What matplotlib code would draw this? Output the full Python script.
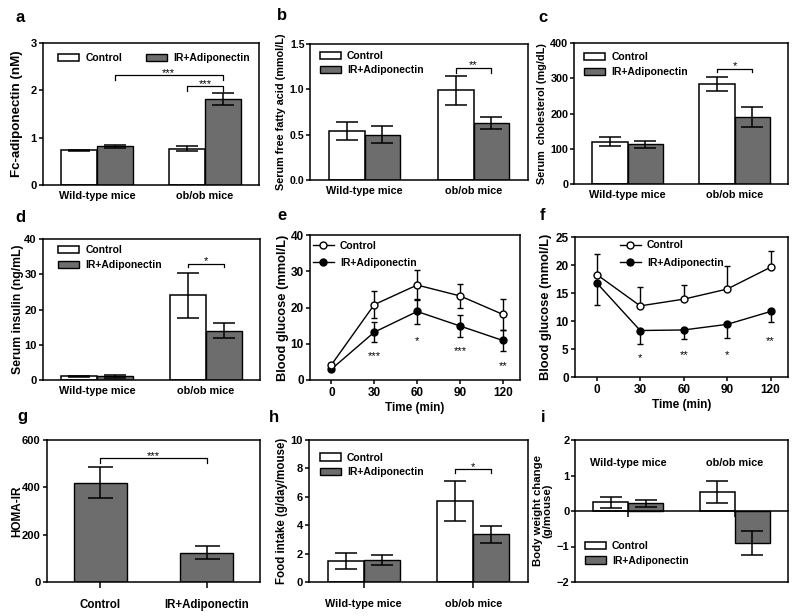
import numpy as np
import matplotlib
matplotlib.use('Agg')
import matplotlib.pyplot as plt
from matplotlib.patches import Patch
from matplotlib.lines import Line2D

plt.rcParams['font.family'] = ['Liberation Sans', 'DejaVu Sans']
plt.rcParams['font.weight'] = 'bold'
plt.rcParams['axes.labelweight'] = 'bold'
plt.rcParams['axes.linewidth'] = 1.1
plt.rcParams['xtick.major.width'] = 1.1
plt.rcParams['ytick.major.width'] = 1.1
plt.rcParams['ytick.major.size'] = 3
plt.rcParams['xtick.major.size'] = 3

# ---- datos ----
grupos = ['Wild-type mice', 'ob/ob mice']
series = ['Control', 'IR+Adiponectin']

# a: Fc-adiponectin (nM)
adipo_ctrl = [0.73, 0.77]
adipo_ctrl_err = [0.02, 0.06]
adipo_ir = [0.82, 1.81]
adipo_ir_err = [0.03, 0.13]

# b: serum free fatty acid (mmol/L)
ffa_ctrl = [0.54, 0.99]
ffa_ctrl_err = [0.10, 0.16]
ffa_ir = [0.50, 0.63]
ffa_ir_err = [0.095, 0.065]

# c: serum cholesterol (mg/dL)
col_ctrl = [120, 284]
col_ctrl_err = [13, 20]
col_ir = [113, 190]
col_ir_err = [10, 28]

# d: serum insulin (ng/mL)
ins_ctrl = [1.0, 24.0]
ins_ctrl_err = [0.2, 6.4]
ins_ir = [1.0, 14.0]
ins_ir_err = [0.3, 2.2]

# e: GTT
tiempos = [0, 30, 60, 90, 120]
gtt_ctrl = [4.2, 20.8, 26.2, 23.2, 18.1]
gtt_ctrl_err = [0.4, 3.7, 4.2, 3.4, 4.2]
gtt_ir = [3.0, 13.2, 18.9, 14.9, 10.9]
gtt_ir_err = [0.4, 2.8, 3.5, 2.9, 2.9]
gtt_sig = ['', '***', '*', '***', '**']
gtt_sig_y = [0, 7.4, 11.8, 8.8, 4.7]

# f: ITT
itt_ctrl = [18.3, 12.7, 13.9, 15.7, 19.6]
itt_ctrl_err = [3.6, 3.3, 2.6, 4.1, 2.9]
itt_ir = [16.8, 8.3, 8.4, 9.4, 11.7]
itt_ir_err = [3.9, 2.4, 1.6, 2.4, 1.9]
itt_sig = ['', '*', '**', '*', '**']
itt_sig_y = [0, 4.0, 4.6, 4.6, 7.1]

# g: HOMA-IR
homa_grupos = ['Control', 'IR+Adiponectin']
homa = [420, 124]
homa_err = [65, 27]

# h: food intake (g/day/mouse)
food_ctrl = [1.48, 5.72]
food_ctrl_err = [0.57, 1.4]
food_ir = [1.53, 3.35]
food_ir_err = [0.36, 0.59]

# i: body weight change (g/mouse)
peso_ctrl = [0.24, 0.53]
peso_ctrl_err = [0.16, 0.31]
peso_ir = [0.22, -0.90]
peso_ir_err = [0.10, 0.34]

GRIS = '#6d6d6d'
W, H = 800, 616
fig = plt.figure(figsize=(W / 100, H / 100), dpi=100)


def caja(l, t, r, b):
    return [l / W, 1 - b / H, (r - l) / W, (b - t) / H]


def letra(x, y, s):
    fig.text(x / W, 1 - y / H, s, fontsize=12, ha='center', va='center')


def estilo(ax, ylabel, xlab_frac, yticks, ylim, fs=8, tfs=8):
    ax.set_ylim(*ylim)
    ax.set_yticks(yticks)
    ax.set_ylabel(ylabel, fontsize=fs, va='center')
    ax.yaxis.set_label_coords(xlab_frac, 0.5)
    ax.tick_params(axis='y', labelsize=tfs, pad=1.5)
    ax.tick_params(axis='x', labelsize=7.8)


def barras(ax, ctrl, ctrl_err, ir, ir_err, w=0.33, cap=8):
    x = np.arange(len(grupos))
    ax.bar(x - w / 2, ctrl, w, color='white', edgecolor='k', lw=1.1, zorder=2)
    ax.bar(x + w / 2, ir, w, color=GRIS, edgecolor='k', lw=1.0, zorder=2)
    ax.errorbar(x - w / 2, ctrl, yerr=ctrl_err, fmt='none', ecolor='k',
                elinewidth=1.1, capsize=cap, capthick=1.1, zorder=3)
    ax.errorbar(x + w / 2, ir, yerr=ir_err, fmt='none', ecolor='k',
                elinewidth=1.1, capsize=cap, capthick=1.1, zorder=3)
    ax.set_xlim(-0.5, 1.5)
    ax.set_xticks(x)
    ax.set_xticklabels(grupos)
    return x


def estrellas(ax, x, y, txt):
    # y = centro visual de los asteriscos
    ax.annotate(txt, (x, y), xytext=(0, -4.6), textcoords='offset points',
                ha='center', va='baseline', fontsize=8, fontweight='normal')


def llave(ax, x1, x2, y, y0, txt, ty):
    ax.plot([x1, x1, x2, x2], [y0, y, y, y0], color='k', lw=0.9)
    estrellas(ax, (x1 + x2) / 2, ty, txt)


def leyenda_barras(ax, anchor, ncol=1, colsp=2.0):
    h = [Patch(facecolor='white', edgecolor='k', lw=1.1),
         Patch(facecolor=GRIS, edgecolor='k', lw=1.0)]
    ax.legend(h, series, loc='upper left', bbox_to_anchor=anchor, frameon=False,
              fontsize=7.5, ncol=ncol, borderpad=0, borderaxespad=0,
              handlelength=2.0, handleheight=0.7, handletextpad=0.6,
              labelspacing=0.45, columnspacing=colsp)


w = 0.33

# ---- a ----
ax = fig.add_axes(caja(43, 43, 259, 185))
barras(ax, adipo_ctrl, adipo_ctrl_err, adipo_ir, adipo_ir_err)
estilo(ax, 'Fc-adiponectin (nM)', -0.12, [0, 1, 2, 3], (0, 3), fs=9.6)
ax.tick_params(axis='x', length=0, pad=4)
llave(ax, w / 2, 1 + w / 2, 2.33, 2.22, '***', 2.43)
llave(ax, 1 - w / 2, 1 + w / 2, 2.09, 1.99, '***', 2.2)
leyenda_barras(ax, (0.07, 0.93), ncol=2, colsp=2.3)
letra(20, 17, 'a')

# ---- b ----
ax = fig.add_axes(caja(310, 44, 528, 180))
barras(ax, ffa_ctrl, ffa_ctrl_err, ffa_ir, ffa_ir_err)
estilo(ax, 'Serum free fatty acid (mmol/L)', -0.135, [0, 0.5, 1.0, 1.5], (0, 1.5),
       fs=7.8, tfs=7.6)
ax.set_yticklabels(['0.0', '0.5', '1.0', '1.5'])
ax.tick_params(axis='y', pad=1)
ax.tick_params(axis='x', length=0, pad=4)
llave(ax, 1 - w / 2, 1 + w / 2, 1.23, 1.18, '**', 1.3)
leyenda_barras(ax, (0.046, 0.95))
letra(282, 15, 'b')

# ---- c ----
ax = fig.add_axes(caja(574, 43, 788, 184))
barras(ax, col_ctrl, col_ctrl_err, col_ir, col_ir_err)
estilo(ax, 'Serum  cholesterol (mg/dL)', -0.15, [0, 100, 200, 300, 400], (0, 400),
       fs=7.8, tfs=7.8)
ax.tick_params(axis='y', pad=1)
ax.tick_params(axis='x', length=0, pad=4)
llave(ax, 1 - w / 2, 1 + w / 2, 327, 317, '*', 345)
leyenda_barras(ax, (0.047, 0.935))
letra(543, 17, 'c')

# ---- d ----
ax = fig.add_axes(caja(43, 239, 260, 380))
barras(ax, ins_ctrl, ins_ctrl_err, ins_ir, ins_ir_err)
estilo(ax, 'Serum insulin (ng/mL)', -0.115, [0, 10, 20, 30, 40], (0, 40), fs=8.8)
ax.tick_params(axis='x', length=0, pad=4)
llave(ax, 1 - w / 2, 1 + w / 2, 33, 32, '*', 34.8)
leyenda_barras(ax, (0.07, 0.955))
letra(20, 217, 'd')


# ---- e / f ----
def curvas(ax, ctrl, ctrl_err, ir, ir_err, sig, sig_y):
    ax.errorbar(tiempos, ir, yerr=ir_err, fmt='-o', color='k', mfc='k', mec='k',
                ms=5, lw=1.0, elinewidth=1.0, capsize=2.5, capthick=1.0, zorder=3)
    ax.errorbar(tiempos, ctrl, yerr=ctrl_err, fmt='-o', color='k', mfc='white', mec='k',
                ms=5, mew=1.0, lw=1.0, elinewidth=1.0, capsize=2.5, capthick=1.0, zorder=4)
    for t, s, y in zip(tiempos, sig, sig_y):
        if s:
            estrellas(ax, t, y, s)
    ax.set_xlim(-15, 132)
    ax.set_xticks(tiempos)
    ax.set_xlabel('Time (min)', fontsize=8.5, labelpad=2)


def leyenda_lineas(ax, anchor):
    h = [Line2D([], [], color='k', marker='o', mfc='white', mec='k', ms=5, lw=1.0),
         Line2D([], [], color='k', marker='o', mfc='k', mec='k', ms=5, lw=1.0)]
    ax.legend(h, series, loc='upper left', bbox_to_anchor=anchor, frameon=False,
              fontsize=7.5, borderpad=0, borderaxespad=0, handlelength=2.0,
              handletextpad=0.6, labelspacing=0.7)


ax = fig.add_axes(caja(310, 235, 520, 380))
curvas(ax, gtt_ctrl, gtt_ctrl_err, gtt_ir, gtt_ir_err, gtt_sig, gtt_sig_y)
estilo(ax, 'Blood glucose (mmol/L)', -0.129, [0, 10, 20, 30, 40], (0, 40), fs=9.3, tfs=8.5)
ax.tick_params(axis='x', labelsize=8.5, pad=2)
leyenda_lineas(ax, (0.014, 0.96))
letra(282, 216, 'e')

ax = fig.add_axes(caja(575, 237, 788, 377))
cero = [0] * len(tiempos)
curvas(ax, itt_ctrl, [cero, itt_ctrl_err], itt_ir, [itt_ir_err, cero], itt_sig, itt_sig_y)
estilo(ax, 'Blood glucose (mmol/L)', -0.136, [0, 5, 10, 15, 20, 25], (0, 25), fs=9.3, tfs=8.5)
ax.tick_params(axis='x', labelsize=8.5, pad=2)
leyenda_lineas(ax, (0.21, 0.975))
letra(543, 216, 'f')

# ---- g ----
ax = fig.add_axes(caja(47, 440, 260, 582))
xg = np.arange(len(homa_grupos))
ax.bar(xg, homa, 0.5, color=GRIS, edgecolor='k', lw=1.0, zorder=2)
ax.errorbar(xg, homa, yerr=homa_err, fmt='none', ecolor='k', elinewidth=1.1,
            capsize=9, capthick=1.1, zorder=3)
ax.set_xlim(-0.5, 1.5)
ax.set_xticks(xg)
ax.set_xticklabels(homa_grupos)
estilo(ax, 'HOMA-IR', -0.14, [0, 200, 400, 600], (0, 600), fs=8.5)
ax.tick_params(axis='x', length=4, pad=8, labelsize=8.3)
llave(ax, 0, 1, 522, 504, '***', 546)
letra(22, 417, 'g')

# ---- h ----
ax = fig.add_axes(caja(309, 440, 528, 582))
barras(ax, food_ctrl, food_ctrl_err, food_ir, food_ir_err)
estilo(ax, 'Food intake (g/day/mouse)', -0.123, [0, 2, 4, 6, 8, 10], (0, 10), fs=8.3)
ax.tick_params(axis='x', length=4, pad=8)
llave(ax, 1 - w / 2, 1 + w / 2, 7.93, 7.65, '*', 8.35)
leyenda_barras(ax, (0.05, 0.91))
letra(274, 417, 'h')

# ---- i ----
ax = fig.add_axes(caja(575, 440, 788, 582))
xi = barras(ax, peso_ctrl, peso_ctrl_err, peso_ir, peso_ir_err)
estilo(ax, 'Body weight change\n(g/mouse)', -0.15, [-2, -1, 0, 1, 2], (-2, 2), fs=8.2)
ax.yaxis.label.set_linespacing(0.95)
ax.tick_params(axis='y', pad=1)
ax.spines['bottom'].set_position(('data', 0))
ax.axhline(-2, color='k', lw=1.1, clip_on=False)
ax.tick_params(axis='x', length=4, labelbottom=False)
for xx, g in zip(xi, grupos):
    ax.text(xx, 1.35, g, ha='center', va='center', fontsize=7.8)
leyenda_barras(ax, (0.047, 0.29))
letra(543, 417, 'i')

fig.savefig('out.png', dpi=100)
